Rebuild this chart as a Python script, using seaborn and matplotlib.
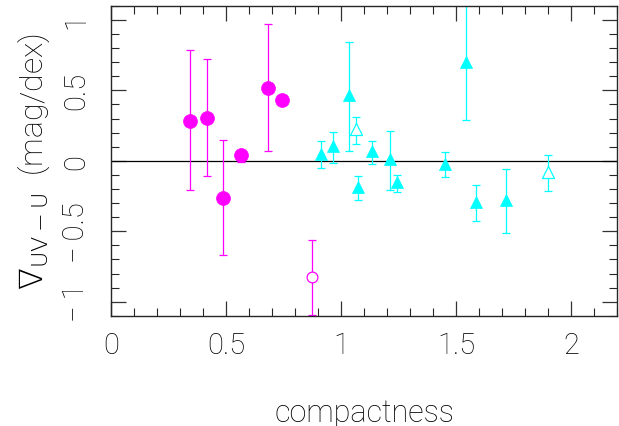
import numpy as np
import pandas as pd
import seaborn as sns
import matplotlib.pyplot as plt

# magenta sample (circles)
mag_x = [0.342, 0.416, 0.488, 0.566, 0.684, 0.745, 0.876]
mag_y = [0.286, 0.307, -0.262, 0.038, 0.518, 0.433, -0.825]
mag_hi = [0.787, 0.723, 0.147, 0.078, 0.972, 0.433, -0.563]
mag_lo = [-0.21, -0.109, -0.671, -0.005, 0.069, 0.433, -1.092]
mag_filled = [True, True, True, True, True, True, False]

# cyan sample (triangles)
cyn_x = [0.912, 0.964, 1.035, 1.066, 1.075, 1.133, 1.214, 1.244, 1.45, 1.543, 1.587, 1.717, 1.899]
cyn_y = [0.05, 0.104, 0.468, 0.227, -0.187, 0.071, 0.014, -0.151, -0.021, 0.704, -0.293, -0.277, -0.076]
cyn_hi = [0.139, 0.203, 0.846, 0.31, -0.111, 0.144, 0.215, -0.104, 0.066, 1.15, -0.175, -0.061, 0.04]
cyn_lo = [-0.052, -0.017, 0.069, 0.12, -0.277, -0.019, -0.206, -0.222, -0.116, 0.288, -0.43, -0.513, -0.215]
cyn_filled = [True, True, True, False, True, True, True, True, True, True, True, True, False]

df = pd.concat([
    pd.DataFrame({'x': mag_x, 'y': mag_y, 'hi': mag_hi, 'lo': mag_lo,
                  'filled': mag_filled, 'group': 'mag'}),
    pd.DataFrame({'x': cyn_x, 'y': cyn_y, 'hi': cyn_hi, 'lo': cyn_lo,
                  'filled': cyn_filled, 'group': 'cyn'}),
], ignore_index=True)

colors = {'mag': '#ff00ff', 'cyn': '#00ffff'}
markers = {'mag': 'o', 'cyn': '^'}

sns.set_style('ticks')
plt.rcParams.update({
    'font.family': ['Roboto', 'DejaVu Sans'],
    'font.weight': 'light',
    'axes.labelweight': 'light',
    'text.color': 'black',
    'axes.labelcolor': 'black',
    'xtick.direction': 'in', 'ytick.direction': 'in',
    'xtick.top': True, 'ytick.right': True,
    'xtick.major.size': 11, 'ytick.major.size': 11,
    'xtick.minor.size': 5.5, 'ytick.minor.size': 5.5,
    'xtick.major.width': 0.9, 'ytick.major.width': 0.9,
    'xtick.minor.width': 0.8, 'ytick.minor.width': 0.8,
    'axes.linewidth': 1.0,
})

fig = plt.figure(figsize=(6.19, 4.27), dpi=100)
ax = fig.add_axes([0.179, 0.258, 0.818, 0.726])

ax.axhline(0, color='black', lw=0.9, zorder=1)

# error bars
for g, sub in df.groupby('group'):
    yerr = np.vstack([sub['y'] - sub['lo'], sub['hi'] - sub['y']])
    ax.errorbar(sub['x'], sub['y'], yerr=yerr, fmt='none', ecolor=colors[g],
                elinewidth=0.9, capsize=3, capthick=0.9, zorder=2)

# markers
for g in ['mag', 'cyn']:
    sub = df[(df['group'] == g) & df['filled']]
    size = 100 if g == 'mag' else 75
    sns.scatterplot(data=sub, x='x', y='y', ax=ax, color=colors[g], marker=markers[g],
                    s=size, edgecolor=colors[g], linewidth=0.5, zorder=3, legend=False)
    sub = df[(df['group'] == g) & ~df['filled']]
    sns.scatterplot(data=sub, x='x', y='y', ax=ax, marker=markers[g],
                    s=(60 if g == 'mag' else 75),
                    facecolor='white', edgecolor=colors[g], linewidth=0.9, zorder=3,
                    legend=False)

ax.set_xlim(0, 2.2)
ax.set_ylim(-1.1, 1.1)
ax.set_xticks([0, 0.5, 1, 1.5, 2])
ax.set_xticklabels(['0', '0.5', '1', '1.5', '2'])
ax.set_yticks([-1, -0.5, 0, 0.5, 1])
ax.set_yticklabels(['\u2212\u20091', '\u2212\u20090.5', '0', '0.5', '1'])
ax.set_xticks(np.arange(0, 2.21, 0.1), minor=True)
ax.set_yticks(np.arange(-1.1, 1.11, 0.1), minor=True)
ax.tick_params(axis='x', labelsize=21, pad=11, colors='#333333', labelcolor='black')
ax.tick_params(axis='y', labelsize=21, pad=15, labelrotation=90, colors='#333333',
               labelcolor='black')
for lab in ax.get_yticklabels():
    lab.set_verticalalignment('center')

ax.set_xlabel('compactness', fontsize=22, labelpad=28)
ax.set_ylabel(r'$\nabla_{\rm UV-U}$  (mag/dex)', fontsize=23, labelpad=7)

fig.savefig('out.png', dpi=100)
